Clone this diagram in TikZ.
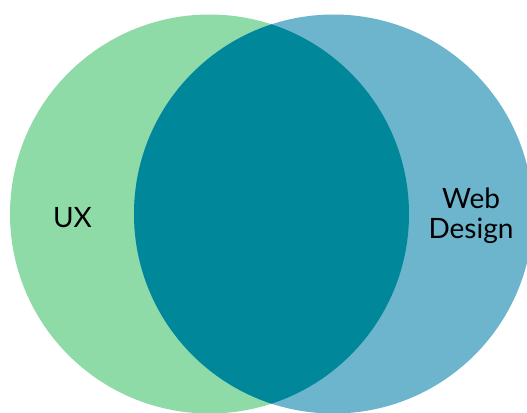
\documentclass[tikz,border=0pt]{standalone}
\usepackage{fontspec}
\setmainfont{Lato}
\definecolor{uxgreen}{HTML}{8EDBA8}
\definecolor{webblue}{HTML}{6DB5CD}
\definecolor{overlap}{HTML}{00889A}
\begin{document}
\begin{tikzpicture}[x=1pt,y=-1pt,
  lbl/.style={font=\fontsize{28}{30}\selectfont, text=black, align=center, inner sep=0pt}]
  \useasboundingbox (0,0) rectangle (527,412);
  \begin{scope}
    \clip (0,0) rectangle (527,412);
    % the two sets
    \fill[uxgreen] (209.5,214) circle[radius=199.5];
    \fill[webblue] (333.5,214) circle[radius=199.5];
    % their common part
    \begin{scope}
      \clip (209.5,214) circle[radius=199.5];
      \fill[overlap] (333.5,214) circle[radius=199.5];
    \end{scope}
  \end{scope}
  \node[lbl, anchor=base] (ux) at (72.5,227) {UX};
  \node[lbl, anchor=base] (web) at (471,238) {Web\\Design};
\end{tikzpicture}
\end{document}
